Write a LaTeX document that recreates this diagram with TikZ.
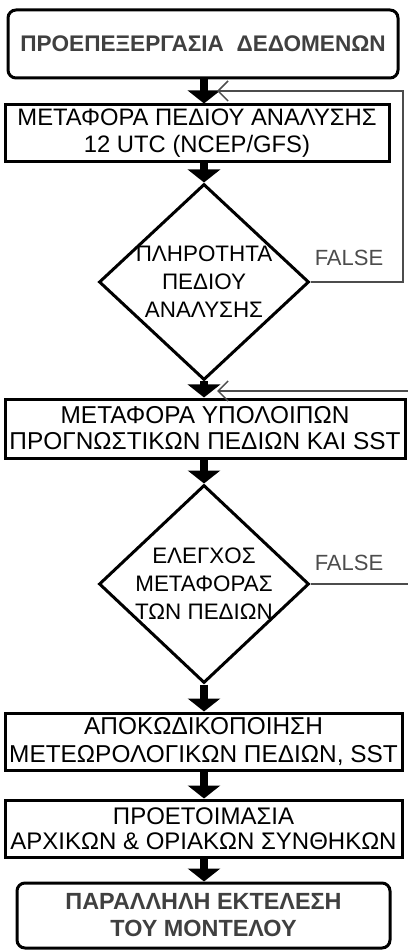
\documentclass[tikz,border=0pt]{standalone}
\usepackage{fontspec}
\setmainfont{Liberation Sans}
\usetikzlibrary{shapes.geometric,arrows.meta}

\begin{document}
\begin{tikzpicture}[x=0.5pt,y=-0.5pt,
    every node/.style={font=\fontsize{12.2}{14}\selectfont, align=center},
    stepbox/.style={draw, line width=1.5pt, inner sep=0pt},
    termbox/.style={stepbox, rounded corners=4pt, text=black!75, font=\fontsize{11.7}{13.5}\selectfont\bfseries},
    decision/.style={draw, shape=diamond, line width=1.5pt, inner sep=0pt},
    decisiontext/.style={font=\fontsize{11.2}{14}\selectfont},
    blockarrow/.style={line width=4pt, -{Triangle[width=16pt,length=6.5pt]}},
    loopline/.style={black!70, line width=0.75pt, -{Straight Barb[length=5pt,width=10pt]}},
    falselabel/.style={text=black!70, font=\fontsize{11}{13}\selectfont}]
    \useasboundingbox (0,0) rectangle (407,951);

    \node[termbox, minimum width=195pt, minimum height=34pt, font=\fontsize{11.3}{13}\selectfont\bfseries] (prep) at (203,44) {ΠΡΟΕΠΕΞΕΡΓΑΣΙΑ\ \ ΔΕΔΟΜΕΝΩΝ};
    \node[stepbox, minimum width=192pt, minimum height=28.5pt, font=\fontsize{11.9}{13.5}\selectfont] (anal) at (197,133.5) {ΜΕΤΑΦΟΡΑ ΠΕΔΙΟΥ ΑΝΑΛΥΣΗΣ\\12 UTC (NCEP/GFS)};
    \node[decision, minimum width=105pt, minimum height=98pt] (d1) at (204,282) {};
    \node[decisiontext] (d1text) at (d1) {ΠΛΗΡΟΤΗΤΑ\\ΠΕΔΙΟΥ\\ΑΝΑΛΥΣΗΣ};
    \node[stepbox, minimum width=200pt, minimum height=29.5pt, font=\fontsize{12.2}{13}\selectfont] (rest) at (205,428.5) {ΜΕΤΑΦΟΡΑ ΥΠΟΛΟΙΠΩΝ\\ΠΡΟΓΝΩΣΤΙΚΩΝ ΠΕΔΙΩΝ ΚΑΙ SST};
    \node[decision, minimum width=105pt, minimum height=99pt] (d2) at (204,584) {};
    \node[decisiontext] (d2text) at (d2) {ΕΛΕΓΧΟΣ\\ΜΕΤΑΦΟΡΑΣ\\ΤΩΝ ΠΕΔΙΩΝ};
    \node[stepbox, minimum width=198.5pt, minimum height=28.5pt] (decode) at (203.5,741.5) {ΑΠΟΚΩΔΙΚΟΠΟΙΗΣΗ\\ΜΕΤΕΩΡΟΛΟΓΙΚΩΝ ΠΕΔΙΩΝ, SST};
    \node[stepbox, minimum width=198.5pt, minimum height=28.5pt, font=\fontsize{12}{12.5}\selectfont] (init) at (203.5,828.5) {ΠΡΟΕΤΟΙΜΑΣΙΑ\\ΑΡΧΙΚΩΝ \& ΟΡΙΑΚΩΝ ΣΥΝΘΗΚΩΝ};
    \node[termbox, minimum width=186.5pt, minimum height=32.5pt] (run) at (203.5,915.5) {ΠΑΡΑΛΛΗΛΗ ΕΚΤΕΛΕΣΗ\\ΤΟΥ ΜΟΝΤΕΛΟΥ};

    \node[falselabel] (f1) at (349,258) {FALSE};
    \node[falselabel] (f2) at (349,563) {FALSE};

    \draw[blockarrow] (prep.south -| d1) -- (anal.north -| d1);
    \draw[blockarrow] (anal.south -| d1) -- (d1.north);
    \draw[blockarrow] (d1.south) -- (rest.north -| d1);
    \draw[blockarrow] (rest.south -| d1) -- (d2.north);
    \draw[blockarrow] (d2.south) -- (decode.north -| d2);
    \draw[blockarrow] (decode.south -| d2) -- (init.north -| d2);
    \draw[blockarrow] (init.south -| d2) -- (run.north -| d2);

    % false branches
    \coordinate (fb1) at (403,91);
    \coordinate (fb1end) at (217,91);
    \coordinate (fb2) at (409,391);
    \coordinate (fb2end) at (217,391);
    \draw[loopline] (d1.east) -| (fb1) -- (fb1end);
    \draw[loopline] (d2.east) -| (fb2) -- (fb2end);
\end{tikzpicture}
\end{document}
